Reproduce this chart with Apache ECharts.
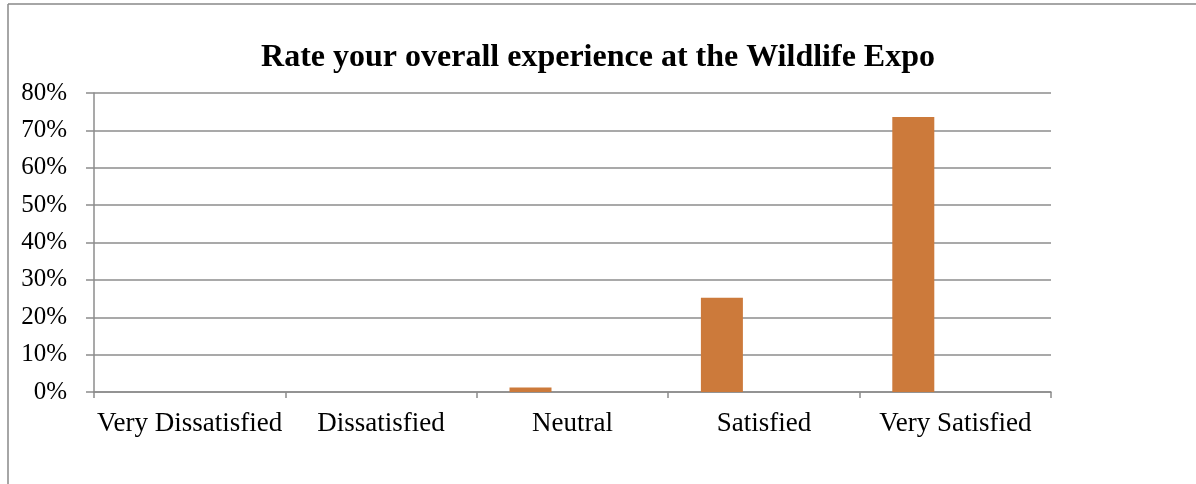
<!DOCTYPE html>
<html>
<head>
<meta charset="utf-8">
<script src="https://cdn.jsdelivr.net/npm/echarts@6/dist/echarts.min.js"></script>
<style>
  html, body { margin: 0; padding: 0; background: #fff; }
  #chart { width: 1196px; height: 484px; }
</style>
</head>
<body>
<div id="chart"></div>
<script>
// 数据
var categories = ['Very Dissatisfied', 'Dissatisfied', 'Neutral', 'Satisfied', 'Very Satisfied']
var percentValues = [0, 0, 1.2, 25.2, 73.6]
var yTicks = [0, 10, 20, 30, 40, 50, 60, 70, 80]

var chart = echarts.init(document.getElementById('chart'))
var serif = '"Liberation Serif", "Times New Roman", serif'
var gridColor = '#8c8c8c'

var option = {
  animation: false,
  title: {
    text: 'Rate your overall experience at the Wildlife Expo',
    left: 'center',
    top: 37,
    textStyle: { fontFamily: serif, fontSize: 32, fontWeight: 'bold', color: '#000' }
  },
  // 外框（左、上）
  graphic: [
    { type: 'line', shape: { x1: 8, y1: 4, x2: 8, y2: 484 }, style: { stroke: '#888', lineWidth: 1.5 } },
    { type: 'line', shape: { x1: 8, y1: 4, x2: 1196, y2: 4 }, style: { stroke: '#888', lineWidth: 1.5 } }
  ],
  grid: { left: 94, right: 145, top: 93, bottom: 92 },
  xAxis: {
    type: 'category',
    data: categories,
    axisLine: { lineStyle: { color: gridColor, width: 1.5 } },
    axisTick: { show: true, length: 6, lineStyle: { color: gridColor, width: 1.5 } },
    axisLabel: { interval: 0, margin: 18, fontFamily: serif, fontSize: 27, color: '#000' }
  },
  yAxis: {
    type: 'value',
    min: yTicks[0],
    max: yTicks[yTicks.length - 1],
    interval: 10,
    axisLine: { show: true, lineStyle: { color: gridColor, width: 1.5 } },
    axisTick: { show: true, length: 8, lineStyle: { color: gridColor, width: 1.5 } },
    axisLabel: { margin: 27, fontFamily: serif, fontSize: 25, color: '#000', formatter: '{value}%' },
    splitLine: { lineStyle: { color: gridColor, width: 1.5 } }
  },
  series: [
    {
      type: 'bar',
      data: percentValues,
      barWidth: 42,
      barGap: '0%',
      itemStyle: { color: '#cc7a3b' }
    },
    // Excel 中留空的两组系列占位
    { type: 'bar', data: [], barWidth: 42, barGap: '0%' },
    { type: 'bar', data: [], barWidth: 42, barGap: '0%' }
  ]
}
chart.setOption(option)
</script>
</body>
</html>
